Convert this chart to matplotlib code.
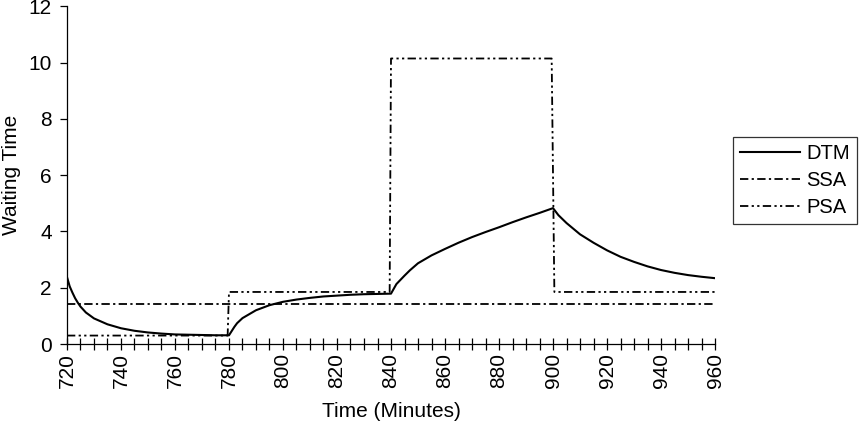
import matplotlib
matplotlib.use("Agg")
import matplotlib.pyplot as plt
from matplotlib.ticker import MultipleLocator

plt.rcParams['font.family'] = ['Liberation Sans', 'DejaVu Sans']
plt.rcParams['lines.scale_dashes'] = False

# DTM
dtm_t = [720, 721, 722, 723, 724, 725, 727, 730, 735, 740, 745, 750, 755, 760, 765, 770, 775, 780,
         781, 782, 783, 785, 790, 795, 800, 805, 810, 815, 820, 825, 830, 835, 840,
         842, 845, 847, 850, 855, 860, 865, 870, 875, 880, 885, 890, 895, 900,
         902, 905, 910, 915, 920, 925, 930, 935, 940, 945, 950, 955, 960]
dtm_v = [2.38, 2.05, 1.83, 1.63, 1.47, 1.33, 1.12, 0.91, 0.70, 0.56, 0.47, 0.41, 0.37, 0.34, 0.33, 0.32, 0.31, 0.31,
         0.46, 0.61, 0.74, 0.92, 1.20, 1.38, 1.50, 1.58, 1.64, 1.69, 1.72, 1.75, 1.77, 1.78, 1.79,
         2.13, 2.43, 2.62, 2.87, 3.15, 3.38, 3.60, 3.80, 3.98, 4.15, 4.33, 4.50, 4.66, 4.83,
         4.58, 4.30, 3.90, 3.60, 3.33, 3.10, 2.92, 2.76, 2.63, 2.53, 2.45, 2.39, 2.34]

# SSA (constant)
ssa_t = [720, 960]
ssa_v = [1.42, 1.42]

# PSA (step function)
psa_t = [720, 779.5, 780, 839.5, 840, 899.5, 900.5, 960]
psa_v = [0.30, 0.30, 1.85, 1.85, 10.15, 10.15, 1.85, 1.85]

fig = plt.figure(figsize=(8.62, 4.30), dpi=100)
ax = fig.add_axes([0.0777, 0.2, 0.8295 - 0.0777, 0.985 - 0.2])

ax.plot(dtm_t, dtm_v, color='black', lw=1.5, label='DTM')
ax.plot(ssa_t, ssa_v, color='black', lw=1.3, linestyle=(0, (6, 2.4, 1.6, 2.4)), label='SSA')
ax.plot(psa_t, psa_v, color='black', lw=1.3, linestyle=(0, (6, 2.4, 1.6, 2.4, 1.6, 2.4)), label='PSA')

ax.set_xlim(720, 960)
ax.set_ylim(0, 12)
ax.xaxis.set_major_locator(MultipleLocator(20))
ax.xaxis.set_minor_locator(MultipleLocator(5))
ax.yaxis.set_major_locator(MultipleLocator(2))

for s in ['top', 'right']:
    ax.spines[s].set_visible(False)
for s in ['left', 'bottom']:
    ax.spines[s].set_linewidth(0.9)

ax.tick_params(axis='x', which='both', direction='inout', length=9, width=0.9,
               labelsize=15, labelrotation=90, pad=2)
ax.tick_params(axis='y', which='major', direction='out', length=5, width=0.9,
               labelsize=15, pad=6)

ax.set_xlabel('Time (Minutes)', fontsize=15, labelpad=10)
ax.set_ylabel('Waiting Time', fontsize=15, labelpad=5)

leg = ax.legend(loc='center left', bbox_to_anchor=(0.850, 0.5805),
                bbox_transform=fig.transFigure, fontsize=14.5, frameon=True,
                fancybox=False, edgecolor='black', handlelength=3.0,
                handletextpad=0.3, labelspacing=0.4, borderpad=0.35,
                borderaxespad=0)
leg.get_frame().set_linewidth(0.9)

fig.savefig('out.png', dpi=100)
